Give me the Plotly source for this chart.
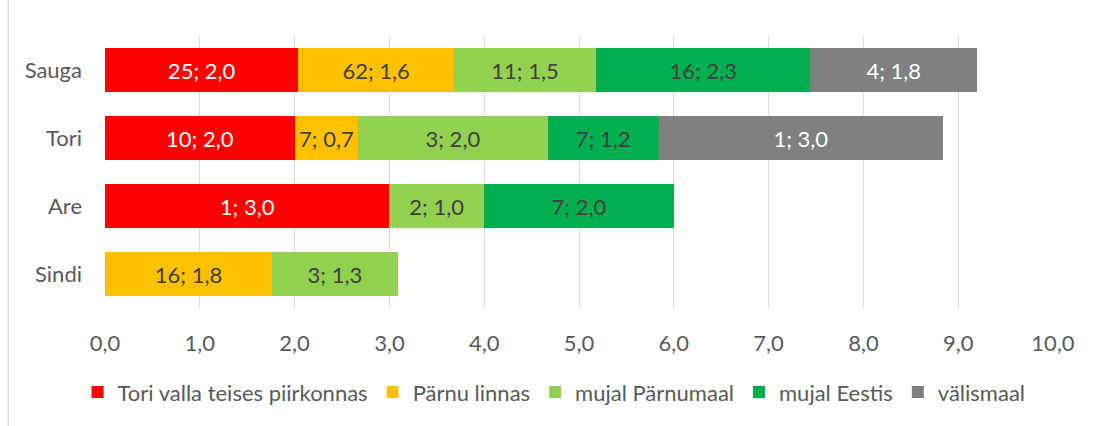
import plotly.graph_objects as go

categories = ["Sauga", "Tori", "Are", "Sindi"]
series_names = ["Tori valla teises piirkonnas", "Pärnu linnas", "mujal Pärnumaal", "mujal Eestis", "välismaal"]
colors = ["#FF0000", "#FFC000", "#92D050", "#00B050", "#808080"]
text_colors = ["#FFFFFF", "#404040", "#404040", "#404040", "#FFFFFF"]

# average values (bar lengths) per series, per category (Sauga, Tori, Are, Sindi)
values = [
    [2.04, 2.00, 3.00, None],   # Tori valla teises piirkonnas
    [1.64, 0.67, None, 1.76],   # Pärnu linnas
    [1.50, 2.00, 1.00, 1.33],   # mujal Pärnumaal
    [2.26, 1.17, 2.00, None],   # mujal Eestis
    [1.76, 3.00, None, None],   # välismaal
]
# counts per series, per category
counts = [
    [25, 10, 1, None],
    [62, 7, None, 16],
    [11, 3, 2, 3],
    [16, 7, 7, None],
    [4, 1, None, None],
]
x_ticks = [0, 1, 2, 3, 4, 5, 6, 7, 8, 9, 10]
x_tick_labels = ["0,0", "1,0", "2,0", "3,0", "4,0", "5,0", "6,0", "7,0", "8,0", "9,0", "10,0"]

FONT = "Lato"

fig = go.Figure()
for name, vals, cnts, col, tcol in zip(series_names, values, counts, colors, text_colors):
    texts = []
    for v, c in zip(vals, cnts):
        if v is None:
            texts.append("")
        else:
            texts.append(f"{c}; {v:.1f}".replace(".", ","))
    fig.add_trace(go.Bar(
        name=name,
        y=categories,
        x=vals,
        orientation="h",
        marker=dict(color=col, line=dict(width=0)),
        text=texts,
        textposition="inside",
        insidetextanchor="middle",
        textfont=dict(family=FONT, size=22, color=tcol),
        constraintext="none",
    ))

fig.update_layout(
    barmode="stack",
    bargap=0.34,
    width=1098,
    height=426,
    margin=dict(l=105, r=45, t=36, b=118, autoexpand=False),
    plot_bgcolor="white",
    paper_bgcolor="white",
    font=dict(family=FONT, size=22, color="#595959"),
    uniformtext=dict(minsize=22, mode="show"),
    legend=dict(
        orientation="h",
        x=-0.029, xanchor="left",
        y=-0.31, yanchor="middle",
        font=dict(family=FONT, size=22, color="#595959"),
        itemwidth=30,
        traceorder="normal",
    ),
    xaxis=dict(
        range=[0, 10],
        tickvals=x_ticks,
        ticktext=x_tick_labels,
        showgrid=True,
        gridcolor="#D9D9D9",
        gridwidth=1,
        zeroline=False,
        showline=False,
        ticks="",
        ticklabelstandoff=20,
        tickfont=dict(family=FONT, size=22, color="#595959"),
    ),
    yaxis=dict(
        categoryorder="array",
        categoryarray=categories,
        autorange="reversed",
        showgrid=False,
        zeroline=False,
        showline=False,
        ticks="",
        ticklabelstandoff=22,
        tickfont=dict(family=FONT, size=22, color="#595959"),
    ),
    shapes=[dict(
        type="line", xref="paper", yref="paper",
        x0=-0.102, x1=-0.102, y0=-0.5, y1=1.2,
        line=dict(color="#D9D9D9", width=1.5),
    )],
)

fig.write_html("out.html", config={"displayModeBar": False},
               post_script="document.body.style.margin='0';")
